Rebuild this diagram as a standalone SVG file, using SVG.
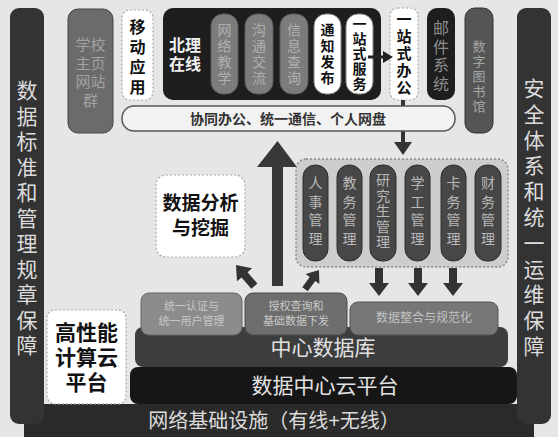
<svg xmlns="http://www.w3.org/2000/svg" width="558" height="437" viewBox="0 0 558 437">
<defs>
<style>
text{font-family:"Liberation Sans","Noto Sans CJK SC",sans-serif;text-anchor:middle}
.b{font-weight:bold}
.side{font-size:21px;fill:#dcdcdc}
.pg{font-size:14px;fill:#b0b0b0}
.pw{font-size:14px;fill:#111;font-weight:bold}
.mod{font-size:14px;fill:#b8b8b8}
.dash{fill:#fff;stroke:#a8a8a8;stroke-width:1.2;stroke-dasharray:2 2}
.gpill{fill:#7c7c7c;stroke:#5a5a5a}
.wpill{fill:#fff;stroke:#888}
.mpill{fill:#474747;stroke:#2e2e2e}
.arr{fill:#333}
</style>
<path id="fat" d="M0,0 L10,13 L4,13 L4,28 L-4,28 L-4,13 L-10,13 Z"/>
</defs>
<rect x="0" y="0" width="558" height="437" fill="#e6e6e6"/>

<g id="network">
<rect x="24" y="404" width="510" height="40" rx="8" fill="#2a2a2a"/>
<text x="274" y="428" style="font-size:20px;fill:#dcdcdc">网络基础设施（有线+无线）</text>
</g>

<g id="left-bar">
<rect x="10" y="8" width="34" height="416" rx="9" fill="#333"/>
<text class="side" x="27" y="98"><tspan x="27">数</tspan><tspan x="27" dy="25.5">据</tspan><tspan x="27" dy="25.5">标</tspan><tspan x="27" dy="25.5">准</tspan><tspan x="27" dy="25.5">和</tspan><tspan x="27" dy="25.5">管</tspan><tspan x="27" dy="25.5">理</tspan><tspan x="27" dy="25.5">规</tspan><tspan x="27" dy="25.5">章</tspan><tspan x="27" dy="25.5">保</tspan><tspan x="27" dy="25.5">障</tspan></text>
</g>

<g id="right-bar">
<rect x="517" y="8" width="34" height="416" rx="9" fill="#333"/>
<text class="side" x="534" y="96"><tspan x="534">安</tspan><tspan x="534" dy="25.8">全</tspan><tspan x="534" dy="25.8">体</tspan><tspan x="534" dy="25.8">系</tspan><tspan x="534" dy="25.8">和</tspan><tspan x="534" dy="25.8">统</tspan><tspan x="534" dy="25.8">一</tspan><tspan x="534" dy="25.8">运</tspan><tspan x="534" dy="25.8">维</tspan><tspan x="534" dy="25.8">保</tspan><tspan x="534" dy="25.8">障</tspan></text>
</g>

<g id="school-sites">
<rect x="68" y="9" width="45" height="124" rx="10" fill="#6b6b6b" stroke="#444"/>
<text x="90.5" y="50" style="font-size:15px;fill:#a2a2a2"><tspan x="90.5">学校</tspan><tspan x="90.5" dy="18.5">主页</tspan><tspan x="90.5" dy="18.5">网站</tspan><tspan x="90.5" dy="19">群</tspan></text>
</g>

<g id="mobile">
<rect class="dash" x="122" y="10" width="31" height="90" rx="8"/>
<text class="b" x="137.5" y="33" style="font-size:16px;fill:#111"><tspan x="137.5">移</tspan><tspan x="137.5" dy="20">动</tspan><tspan x="137.5" dy="20">应</tspan><tspan x="137.5" dy="20">用</tspan></text>
</g>

<g id="beili-online">
<rect x="163" y="8" width="218" height="92" rx="10" fill="#1e1e1e"/>
<text class="b" x="185" y="51" style="font-size:16px;fill:#f0f0f0"><tspan x="185">北理</tspan><tspan x="185" dy="19">在线</tspan></text>
</g>
<g id="online-teaching">
<rect class="gpill" x="211" y="14" width="27" height="80" rx="12"/>
<text class="pg" x="224.5" y="35"><tspan x="224.5">网</tspan><tspan x="224.5" dy="16">络</tspan><tspan x="224.5" dy="16">教</tspan><tspan x="224.5" dy="16">学</tspan></text>
</g>
<g id="communication">
<rect class="gpill" x="245" y="14" width="28" height="80" rx="12"/>
<text class="pg" x="259" y="35"><tspan x="259">沟</tspan><tspan x="259" dy="16">通</tspan><tspan x="259" dy="16">交</tspan><tspan x="259" dy="16">流</tspan></text>
</g>
<g id="info-query">
<rect class="gpill" x="280" y="14" width="28" height="80" rx="12"/>
<text class="pg" x="294" y="35"><tspan x="294">信</tspan><tspan x="294" dy="16">息</tspan><tspan x="294" dy="16">查</tspan><tspan x="294" dy="16">询</tspan></text>
</g>
<g id="notice">
<rect class="wpill" x="314" y="14" width="27" height="80" rx="12"/>
<text class="pw" x="327.5" y="35"><tspan x="327.5">通</tspan><tspan x="327.5" dy="16">知</tspan><tspan x="327.5" dy="16">发</tspan><tspan x="327.5" dy="16">布</tspan></text>
</g>
<g id="one-stop-service">
<rect class="wpill" x="346" y="14" width="27" height="80" rx="12"/>
<text class="pw" x="359.5" y="29"><tspan x="359.5">一</tspan><tspan x="359.5" dy="15">站</tspan><tspan x="359.5" dy="15">式</tspan><tspan x="359.5" dy="15">服</tspan><tspan x="359.5" dy="15">务</tspan></text>
</g>

<g id="one-stop-office">
<rect class="dash" x="390" y="8" width="28" height="92" rx="8"/>
<text class="b" x="404" y="25" style="font-size:15px;fill:#111"><tspan x="404">一</tspan><tspan x="404" dy="17">站</tspan><tspan x="404" dy="17">式</tspan><tspan x="404" dy="17">办</tspan><tspan x="404" dy="17">公</tspan></text>
</g>

<g id="mail">
<rect x="427" y="8" width="28" height="92" rx="10" fill="#1e1e1e"/>
<text x="441" y="34" style="font-size:16px;fill:#8c8c8c"><tspan x="441">邮</tspan><tspan x="441" dy="18.5">件</tspan><tspan x="441" dy="18.5">系</tspan><tspan x="441" dy="18.5">统</tspan></text>
</g>

<g id="library">
<rect x="465" y="8" width="28" height="125" rx="10" fill="#555" stroke="#333"/>
<text x="479" y="51" style="font-size:13px;fill:#a5a5a5"><tspan x="479">数</tspan><tspan x="479" dy="15">字</tspan><tspan x="479" dy="15">图</tspan><tspan x="479" dy="15">书</tspan><tspan x="479" dy="15">馆</tspan></text>
</g>

<g id="connectors">
<line x1="403" y1="100" x2="403" y2="143" stroke="#333" stroke-width="4"/>
<polygon class="arr" points="394,142 412,142 403,155"/>
<line x1="368" y1="57" x2="384" y2="57" stroke="#222" stroke-width="3"/>
<polygon fill="#222" points="383,51 393,57 383,63"/>
<polygon fill="#383838" points="272,286 283,286 283,167 297,167 277.5,141 257,167 272,167"/>
<use href="#fat" class="arr" transform="translate(236,265) rotate(-41)"/>
<use href="#fat" class="arr" transform="translate(319,270) rotate(36) scale(0.85)"/>
<use href="#fat" class="arr" transform="translate(379,296) rotate(180)"/>
<use href="#fat" class="arr" transform="translate(418,296) rotate(180)"/>
<use href="#fat" class="arr" transform="translate(453,296) rotate(180)"/>
</g>

<g id="collab-bar">
<rect x="122" y="106" width="333" height="25" rx="12" fill="#f2f2f2" stroke="#555" stroke-width="1.5"/>
<text class="b" x="288" y="123.5" style="font-size:14px;fill:#333">协同办公、统一通信、个人网盘</text>
</g>

<g id="data-analysis">
<rect class="dash" x="156" y="175" width="89" height="82" rx="10"/>
<text class="b" x="200.5" y="210" style="font-size:19px;fill:#111"><tspan x="200.5">数据分析</tspan><tspan x="200.5" dy="25">与挖掘</tspan></text>
</g>

<g id="business-systems">
<rect x="296" y="159" width="212" height="108" rx="10" fill="#cdcdcd" stroke="#8a8a8a" stroke-width="1.5" stroke-dasharray="2 2"/>
<rect class="mpill" x="303" y="165" width="25" height="96" rx="12"/>
<text class="mod" x="315.5" y="188"><tspan x="315.5">人</tspan><tspan x="315.5" dy="18.5">事</tspan><tspan x="315.5" dy="18.5">管</tspan><tspan x="315.5" dy="18.5">理</tspan></text>
<rect class="mpill" x="337" y="165" width="25" height="96" rx="12"/>
<text class="mod" x="349.5" y="188"><tspan x="349.5">教</tspan><tspan x="349.5" dy="18.5">务</tspan><tspan x="349.5" dy="18.5">管</tspan><tspan x="349.5" dy="18.5">理</tspan></text>
<rect class="mpill" x="370" y="165" width="26" height="96" rx="12"/>
<text class="mod" x="383" y="185"><tspan x="383">研</tspan><tspan x="383" dy="15.5">究</tspan><tspan x="383" dy="15.5">生</tspan><tspan x="383" dy="15.5">管</tspan><tspan x="383" dy="15.5">理</tspan></text>
<rect class="mpill" x="405" y="165" width="25" height="96" rx="12"/>
<text class="mod" x="417.5" y="188"><tspan x="417.5">学</tspan><tspan x="417.5" dy="18.5">工</tspan><tspan x="417.5" dy="18.5">管</tspan><tspan x="417.5" dy="18.5">理</tspan></text>
<rect class="mpill" x="441" y="165" width="25" height="96" rx="12"/>
<text class="mod" x="453.5" y="188"><tspan x="453.5">卡</tspan><tspan x="453.5" dy="18.5">务</tspan><tspan x="453.5" dy="18.5">管</tspan><tspan x="453.5" dy="18.5">理</tspan></text>
<rect class="mpill" x="475" y="165" width="26" height="96" rx="12"/>
<text class="mod" x="488" y="188"><tspan x="488">财</tspan><tspan x="488" dy="18.5">务</tspan><tspan x="488" dy="18.5">管</tspan><tspan x="488" dy="18.5">理</tspan></text>
</g>

<g id="hpc">
<rect class="dash" x="47" y="310" width="79" height="94" rx="8"/>
<text class="b" x="86.5" y="340" style="font-size:21px;fill:#111"><tspan x="86.5">高性能</tspan><tspan x="86.5" dy="25">计算云</tspan><tspan x="86.5" dy="25">平台</tspan></text>
</g>

<g id="central-db">
<rect x="135" y="327" width="373" height="40" rx="8" fill="#3d3d3d"/>
<text x="323" y="355" style="font-size:21px;fill:#e2e2e2">中心数据库</text>
</g>

<g id="auth">
<rect x="141" y="293" width="101" height="42" rx="8" fill="#8c8c8c" stroke="#666"/>
<text x="191.5" y="310" style="font-size:11px;fill:#c6c6c6"><tspan x="191.5">统一认证与</tspan><tspan x="191.5" dy="15">统一用户管理</tspan></text>
</g>
<g id="authorize">
<rect x="245" y="293" width="102" height="42" rx="8" fill="#6e6e6e" stroke="#4a4a4a"/>
<text x="296" y="310" style="font-size:11px;fill:#cacaca"><tspan x="296">授权查询和</tspan><tspan x="296" dy="15">基础数据下发</tspan></text>
</g>
<g id="integration">
<rect x="350" y="302" width="148" height="33" rx="8" fill="#777" stroke="#555"/>
<text x="424" y="322" style="font-size:12px;fill:#c2c2c2">数据整合与规范化</text>
</g>

<g id="dc-cloud">
<rect x="130" y="367" width="387" height="37" rx="8" fill="#161616"/>
<text x="325" y="393" style="font-size:21px;fill:#e2e2e2">数据中心云平台</text>
</g>
</svg>
